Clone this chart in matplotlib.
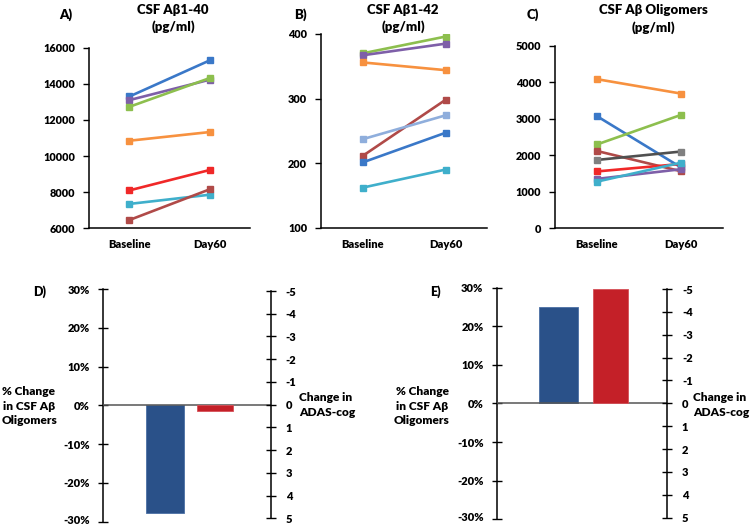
import matplotlib
matplotlib.use("Agg")
import matplotlib.pyplot as plt
import matplotlib.transforms as mtransforms
import numpy as np

plt.rcParams['font.family'] = ['Lato', 'Open Sans', 'DejaVu Sans']
WT = 'heavy'

W, H = 750, 526

timepoints = ["Baseline", "Day60"]

# Panel A: CSF Abeta1-40 (pg/ml)
a_colors = ["#3A78C8", "#7E5FA8", "#8DBF4E", "#F7913F", "#F02828", "#3FAFCB", "#B04A48"]
a_baseline = [13300, 13100, 12730, 10850, 8100, 7350, 6460]
a_day60 = [15300, 14230, 14320, 11330, 9230, 7860, 8160]
a_ticks = [6000, 8000, 10000, 12000, 14000, 16000]

# Panel B: CSF Abeta1-42 (pg/ml)
b_colors = ["#8DBF4E", "#7E5FA8", "#F7913F", "#B04A48", "#8FAEDC", "#3A78C8", "#3FAFCB"]
b_baseline = [370, 367, 356, 211, 237, 201, 162]
b_day60 = [396, 385, 344, 298, 274, 247, 190]
b_ticks = [100, 200, 300, 400]

# Panel C: CSF Abeta oligomers (pg/ml)
c_colors = ["#F7913F", "#3A78C8", "#8DBF4E", "#B04A48", "#505050", "#F02828", "#7E5FA8", "#3FAFCB"]
c_marker_colors = ["#F7913F", "#3A78C8", "#8DBF4E", "#B04A48", "#808080", "#F02828", "#7E5FA8", "#3FAFCB"]
c_baseline = [4090, 3075, 2300, 2120, 1875, 1560, 1355, 1280]
c_day60 = [3695, 1670, 3110, 1565, 2105, 1765, 1620, 1800]
c_ticks = [0, 1000, 2000, 3000, 4000, 5000]

# Panels D and E
bar_groups = ["% Change in CSF Aβ Oligomers", "Change in ADAS-cog"]
d_oligomer_pct = -27.7
d_adas = 0.3
e_oligomer_pct = 25.0
e_adas = -5.0
pct_ticks = [-30, -20, -10, 0, 10, 20, 30]
adas_ticks = [-5, -4, -3, -2, -1, 0, 1, 2, 3, 4, 5]

fig = plt.figure(figsize=(W / 100, H / 100), dpi=100)


def box(x0, x1, ytop, ybot):
    return [x0 / W, 1 - ybot / H, (x1 - x0) / W, (ybot - ytop) / H]


def line_panel(rect, base, day, colors, mcolors, ticks, ylim):
    ax = fig.add_axes(rect)
    x = np.arange(len(timepoints))
    for b, d, c, mc in zip(base, day, colors, mcolors):
        ax.plot(x, [b, d], color=c, lw=1.9, marker='s', ms=3.8,
                mfc=mc, mec=mc, solid_capstyle='butt')
    ax.set_xlim(-0.5, 1.5)
    ax.set_ylim(*ylim)
    ax.set_yticks(ticks)
    ax.set_yticklabels([str(t) for t in ticks], fontsize=7.8, fontweight=WT)
    ax.set_xticks(x)
    ax.set_xticklabels(timepoints, fontsize=8, fontweight=WT)
    ax.tick_params(axis='x', length=0, pad=8)
    ax.tick_params(axis='y', length=4, width=1, direction='out', pad=6)
    for s in ['top', 'right']:
        ax.spines[s].set_visible(False)
    for s in ['left', 'bottom']:
        ax.spines[s].set_linewidth(1.1)
    return ax


line_panel(box(89.3, 250, 47.7, 228.3), a_baseline, a_day60, a_colors, a_colors,
           a_ticks, (6000, 16000))
line_panel(box(321, 487, 34, 227.7), b_baseline, b_day60, b_colors, b_colors,
           b_ticks, (100, 400))
line_panel(box(555, 723, 46, 228.3), c_baseline, c_day60, c_colors, c_marker_colors,
           c_ticks, (0, 5000))

tfs = 9.5
fig.text(66 / W, 1 - 15 / H, "A)", ha='center', va='center', fontsize=tfs, fontweight=WT)
fig.text(173 / W, 1 - 10 / H, "CSF Aβ1-40", ha='center', va='center', fontsize=tfs, fontweight=WT)
fig.text(173 / W, 1 - 27 / H, "(pg/ml)", ha='center', va='center', fontsize=tfs, fontweight=WT)
fig.text(300 / W, 1 - 15 / H, "B)", ha='center', va='center', fontsize=tfs, fontweight=WT)
fig.text(403 / W, 1 - 10 / H, "CSF Aβ1-42", ha='center', va='center', fontsize=tfs, fontweight=WT)
fig.text(403 / W, 1 - 27 / H, "(pg/ml)", ha='center', va='center', fontsize=tfs, fontweight=WT)
fig.text(533 / W, 1 - 15 / H, "C)", ha='center', va='center', fontsize=tfs, fontweight=WT)
fig.text(653 / W, 1 - 9.5 / H, "CSF Aβ Oligomers", ha='center', va='center', fontsize=tfs, fontweight=WT)
fig.text(653 / W, 1 - 27.5 / H, "(pg/ml)", ha='center', va='center', fontsize=tfs, fontweight=WT)


def bar_panel(lx, rx, ltop, lbot, rtop, rbot, blue_c, red_c, pct, adas, label_x, adas_x, tag, tag_x, tag_y):
    xlim = ((lx - blue_c) / (red_c - blue_c), (rx - blue_c) / (red_c - blue_c))
    unit = red_c - blue_c
    axl = fig.add_axes(box(lx, rx, ltop, lbot))
    axl.set_xlim(*xlim)
    axl.set_ylim(-30, 30)
    axl.bar([0], [pct], width=38.6 / unit, color="#2A5189", edgecolor="#4A6FA5", lw=0.6, zorder=2)
    axl.axhline(0, color="#555555", lw=1.1, zorder=3)
    axl.set_yticks(pct_ticks)
    axl.set_yticklabels([f"{t}%" for t in pct_ticks], fontsize=8, fontweight=WT)
    axl.set_xticks([])
    axl.tick_params(axis='y', length=7, width=1, direction='inout', pad=6)
    for s in ['top', 'right', 'bottom']:
        axl.spines[s].set_visible(False)
    axl.spines['left'].set_linewidth(1.1)
    lowest = axl.yaxis.get_major_ticks()[0].label1
    lowest.set_transform(lowest.get_transform() +
                         mtransforms.ScaledTranslation(0, 2.5 / 100, fig.dpi_scale_trans))

    axr = fig.add_axes(box(lx, rx, rtop, rbot))
    axr.patch.set_alpha(0)
    axr.set_xlim(*xlim)
    axr.set_ylim(5, -5)
    axr.bar([1], [adas], width=35.5 / unit, color="#C42028", edgecolor="#D65058", lw=0.6, zorder=2)
    axr.yaxis.tick_right()
    axr.set_yticks(adas_ticks)
    axr.set_yticklabels([str(t) for t in adas_ticks], fontsize=8, fontweight=WT)
    axr.set_xticks([])
    axr.tick_params(axis='y', length=7, width=1, direction='inout', pad=7)
    for s in ['top', 'left', 'bottom']:
        axr.spines[s].set_visible(False)
    axr.spines['right'].set_linewidth(1.1)

    fig.text(label_x / W, 1 - 406 / H, "% Change\nin CSF Aβ\nOligomers", ha='center', va='center',
             fontsize=8.6, fontweight=WT, linespacing=1.4)
    fig.text(adas_x / W, 1 - 405 / H, "Change in\nADAS-cog", ha='left', va='center',
             fontsize=8.6, fontweight=WT, linespacing=1.4)
    fig.text(tag_x / W, 1 - tag_y / H, tag, ha='center', va='center', fontsize=9, fontweight=WT)


bar_panel(103.3, 271, 289, 521.7, 291, 518.3, 165, 215, d_oligomer_pct, d_adas,
          29, 299, "D)", 40, 292)
bar_panel(496.7, 667.3, 287.7, 519.3, 289, 517.7, 558.3, 610.5, e_oligomer_pct, e_adas,
          422, 693, "E)", 435, 292)

fig.savefig("out.png", dpi=100)
